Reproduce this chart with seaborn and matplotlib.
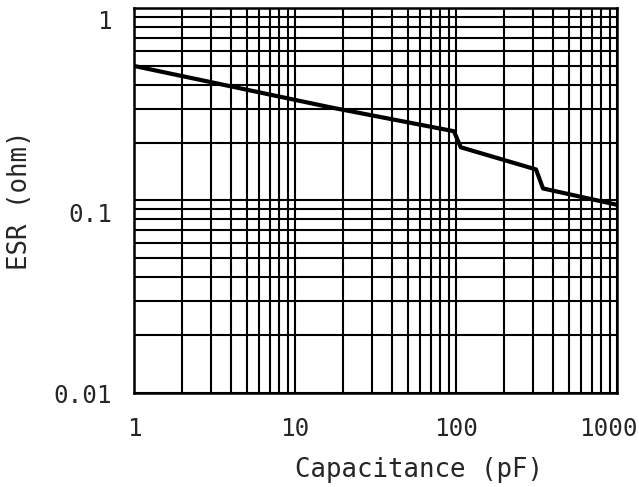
import matplotlib
matplotlib.use("Agg")
import matplotlib.pyplot as plt
import matplotlib.ticker as mticker
import matplotlib.transforms as mtransforms
import seaborn as sns
import pandas as pd

# ESR vs capacitance
cap_pf = [1, 16.5, 97, 107, 314, 347, 1000]
esr_ohm = [0.50, 0.305, 0.229, 0.189, 0.145, 0.1155, 0.095]
x_ticks = [1, 10, 100, 1000]
x_labels = ["1", "10", "100", "1000"]
y_ticks = [0.01, 0.1, 1]
y_labels = ["0.01", "0.1", "1"]

df = pd.DataFrame({"cap": cap_pf, "esr": esr_ohm})

sns.set_style("white")
plt.rcParams["font.family"] = ["DejaVu Sans Mono", "DejaVu Sans"]

fig = plt.figure(figsize=(6.39, 4.87), dpi=100)
ax = fig.add_axes([0.2097, 0.193, 0.7559, 0.7906])

sns.lineplot(data=df, x="cap", y="esr", color="black", linewidth=3, ax=ax)

ax.set_xscale("log")
ax.set_yscale("log")
ax.set_xlim(1, 1000)
ax.set_ylim(0.01, 1)

ax.xaxis.set_major_locator(mticker.FixedLocator(x_ticks))
ax.yaxis.set_major_locator(mticker.FixedLocator(y_ticks))
ax.xaxis.set_minor_locator(mticker.LogLocator(base=10, subs=range(2, 10), numticks=20))
ax.yaxis.set_minor_locator(mticker.LogLocator(base=10, subs=range(2, 10), numticks=20))
ax.xaxis.set_minor_formatter(mticker.NullFormatter())
ax.yaxis.set_minor_formatter(mticker.NullFormatter())
ax.set_xticklabels(x_labels)
ax.set_yticklabels(y_labels)

ax.grid(True, which="both", color="black", linewidth=1.5)
ax.tick_params(which="both", length=0)
ax.tick_params(axis="x", pad=17, labelsize=17.5)
ax.tick_params(axis="y", pad=16, labelsize=17.5)

for s in ax.spines.values():
    s.set_color("black")
    s.set_linewidth(1.8)

# nudge labels like the plotter output
down = mtransforms.ScaledTranslation(0, -12 / 100, fig.dpi_scale_trans)
for lab in ax.get_yticklabels():
    if lab.get_text() in ("1", "0.1"):
        lab.set_transform(lab.get_transform() + down)
left = mtransforms.ScaledTranslation(-9 / 100, 0, fig.dpi_scale_trans)
xl = ax.get_xticklabels()
xl[-1].set_transform(xl[-1].get_transform() + left)

ax.set_xlabel("Capacitance (pF)", fontsize=18.5)
ax.set_ylabel("ESR (ohm)", fontsize=18.5)
ax.xaxis.set_label_coords(0.59, -0.165)
ax.yaxis.set_label_coords(-0.21, 0.5)

fig.savefig("out.png", dpi=100)
